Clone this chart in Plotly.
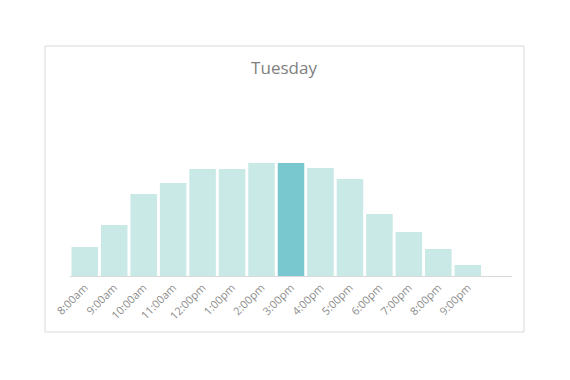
import plotly.graph_objects as go

hours = ["8:00am", "9:00am", "10:00am", "11:00am", "12:00pm", "1:00pm", "2:00pm",
         "3:00pm", "4:00pm", "5:00pm", "6:00pm", "7:00pm", "8:00pm", "9:00pm"]
visits = [29, 51, 82, 93, 107, 107, 113, 113, 108, 97, 62, 44, 27, 11]
highlight = "3:00pm"

light = "#c8e9e5"
dark = "#79c7cf"
colors = [dark if h == highlight else light for h in hours]

fig = go.Figure(go.Bar(x=list(range(len(hours))), y=visits, marker_color=colors,
                       marker_line_width=0, hoverinfo="skip"))

OFF = 8  # page offset
W, H = 570, 380
L, R, T, B = 70 - OFF, 58 + OFF, 100 - OFF, 104 + OFF
pw, ph = W - L - R, H - T - B

fig.update_layout(
    width=W, height=H,
    margin=dict(l=L, r=R, t=T, b=B),
    paper_bgcolor="white", plot_bgcolor="white",
    bargap=0.1,
    showlegend=False,
    title=dict(text="Tuesday", x=(284 - OFF) / W, xref="paper", y=1 - (68 - OFF) / H,
               yanchor="middle", xanchor="center",
               font=dict(family="Open Sans, Lato, sans-serif", size=17, color="#7f7f7f")),
    xaxis=dict(tickmode="array", tickvals=list(range(len(hours))), ticktext=hours,
               range=[-0.5, 14.5], tickangle=-45, showgrid=False, zeroline=False,
               showline=True, linecolor="#d9d9d9", linewidth=1, ticks="",
               tickfont=dict(family="Open Sans, Lato, sans-serif", size=11, color="#8c8c8c")),
    yaxis=dict(range=[0, ph], visible=False, showgrid=False, zeroline=False),
    shapes=[dict(type="rect", xref="paper", yref="paper",
                 x0=(45 - 70) / pw, x1=(524 - 70) / pw,
                 y0=(276 - 332) / ph, y1=(276 - 46) / ph,
                 line=dict(color="#d9d9d9", width=1), fillcolor="rgba(0,0,0,0)", layer="below")],
)

fig.write_html("out.html")
